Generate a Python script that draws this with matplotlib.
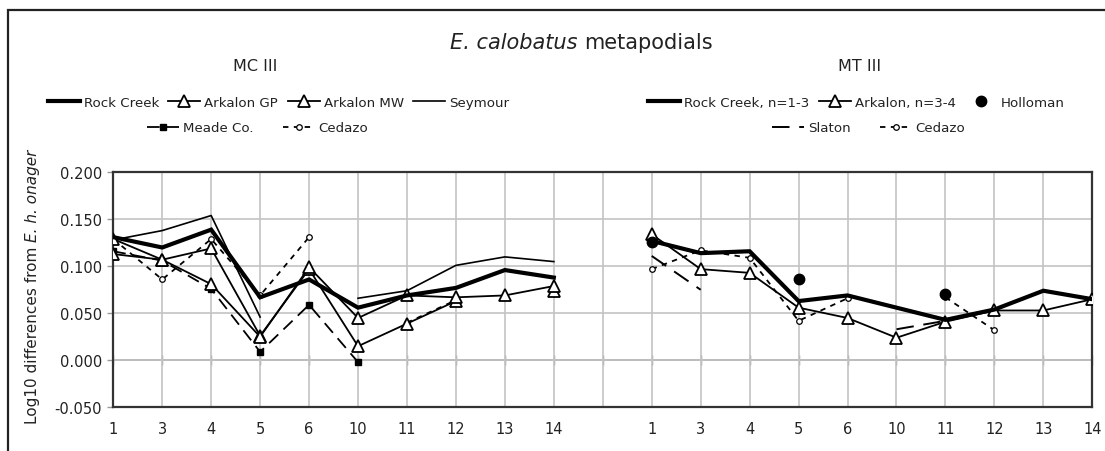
import numpy as np
import matplotlib
matplotlib.use("Agg")
import matplotlib.pyplot as plt
from matplotlib.lines import Line2D
from matplotlib.patches import Rectangle

plt.rcParams['font.family'] = ['DejaVu Sans']

nan = np.nan

# Measurement sites along each bone
categories = ['1', '3', '4', '5', '6', '10', '11', '12', '13', '14']

# MC III: log10 differences from E. h. onager
mc_rock_creek = [0.131, 0.120, 0.139, 0.067, 0.086, 0.056, 0.069, 0.077, 0.096, 0.088]
mc_arkalon_gp = [0.129, 0.107, 0.081, 0.025, 0.099, 0.045, 0.069, 0.067, 0.069, 0.079]
mc_arkalon_mw = [0.113, 0.107, 0.119, 0.026, 0.097, 0.015, 0.039, 0.063, nan, 0.074]
mc_seymour = [0.128, 0.138, 0.154, 0.046, nan, 0.066, 0.074, 0.101, 0.110, 0.105]
mc_meade = [0.116, 0.106, 0.076, 0.009, 0.059, -0.002, nan, nan, nan, nan]
mc_cedazo = [0.129, 0.086, 0.129, 0.069, 0.131, nan, 0.040, 0.064, nan, nan]

# MT III: log10 differences from E. h. onager
mt_rock_creek = [0.127, 0.114, 0.116, 0.063, 0.069, 0.056, 0.043, 0.054, 0.074, 0.065]
mt_arkalon = [0.134, 0.097, 0.093, 0.056, 0.045, 0.024, 0.041, 0.053, 0.053, 0.065]
mt_holloman = [0.126, nan, nan, 0.087, nan, nan, 0.071, nan, nan, nan]
mt_slaton = [0.111, 0.075, nan, nan, nan, 0.033, 0.042, nan, nan, nan]
mt_cedazo = [0.097, 0.117, 0.109, 0.042, 0.066, nan, 0.067, 0.032, nan, nan]

# One shared category axis: MC III, an empty slot, then MT III
tick_labels = categories + [''] + categories
n_cat = len(categories)
x_mc = np.arange(n_cat)
x_mt = np.arange(n_cat) + n_cat + 1
x_all = np.arange(len(tick_labels))

TEXT = '#222222'

fig = plt.figure(figsize=(11.05, 4.52), dpi=100)
ax = fig.add_axes([0.1025, 0.0967, 0.886, 0.5199])

ymin, ymax = -0.05, 0.2
ax.set_xlim(x_all[0], x_all[-1])
ax.set_ylim(ymin, ymax)

# Series styles
thick = dict(color='black', lw=3.0, solid_joinstyle='miter')
tri = dict(color='black', lw=1.3, marker='^', markersize=8,
           markerfacecolor='white', markeredgecolor='black', markeredgewidth=1.3)
thin = dict(color='black', lw=1.2)
meade = dict(color='black', lw=1.3, dashes=(7, 4), marker='s', markersize=5,
             markerfacecolor='black', markeredgecolor='black')
cedazo = dict(color='black', lw=1.3, dashes=(3, 3), marker='o', markersize=4,
              markerfacecolor='white', markeredgecolor='black', markeredgewidth=0.9)
slaton = dict(color='black', lw=1.4, dashes=(9, 5))
holloman = dict(color='black', lw=0, marker='o', markersize=7.5,
                markerfacecolor='black', markeredgecolor='black')

# MC III series
ax.plot(x_mc, mc_seymour, **thin, zorder=3)
ax.plot(x_mc, mc_meade, **meade, zorder=3)
ax.plot(x_mc, mc_cedazo, **cedazo, zorder=3)
ax.plot(x_mc, mc_arkalon_mw, **tri, zorder=4)
ax.plot(x_mc, mc_arkalon_gp, **tri, zorder=4)
ax.plot(x_mc, mc_rock_creek, **thick, zorder=5)

# MT III series
ax.plot(x_mt, mt_slaton, **slaton, zorder=3)
ax.plot(x_mt, mt_cedazo, **cedazo, zorder=3)
ax.plot(x_mt, mt_arkalon, **tri, zorder=4)
ax.plot(x_mt, mt_rock_creek, **thick, zorder=5)
ax.plot(x_mt, mt_holloman, **holloman, zorder=6)

# Axes, grid and ticks
yticks = np.arange(-0.05, 0.2001, 0.05)
ax.set_xticks(x_all)
ax.set_xticklabels(tick_labels, fontsize=10.5)
ax.set_yticks(yticks)
ax.set_yticklabels([f'{v:.3f}' for v in yticks], fontsize=10.5)
ax.tick_params(axis='x', length=0, pad=10, colors=TEXT)
ax.tick_params(axis='y', length=4, width=1.0, color='#999999', direction='out',
               pad=4, labelcolor=TEXT)
ax.grid(True, color='#c4c4c4', lw=1.2, zorder=0)
ax.set_axisbelow(True)
for sp in ax.spines.values():
    sp.set_color('#333333')
    sp.set_linewidth(1.6)

# Category axis line crossing at zero
zero_frac = (0 - ymin) / (ymax - ymin)
sec = ax.secondary_xaxis(zero_frac)
sec.set_xticks(x_all)
sec.set_xticklabels([])
sec.tick_params(axis='x', direction='inout', length=7, width=1.0, color='#8a8a8a')
sec.spines['bottom'].set_color('#8a8a8a')
sec.spines['bottom'].set_linewidth(1.2)

renderer = fig.canvas.get_renderer()
W, H = fig.bbox.width, fig.bbox.height


def run_of_text(pieces, fontsize, x, y, vertical=False):
    """Set a run of differently styled text pieces, centred on (x, y)."""
    widths = []
    for s, style in pieces:
        t = fig.text(0, 0, s, fontsize=fontsize, fontstyle=style)
        widths.append(t.get_window_extent(renderer).width)
        t.remove()
    gap = 0.32 * fontsize * fig.dpi / 72
    total = sum(widths) + gap * (len(pieces) - 1)
    pos = (y * H if vertical else x * W) - total / 2
    for (s, style), w in zip(pieces, widths):
        if vertical:
            fig.text(x, pos / H, s, fontsize=fontsize, fontstyle=style, color=TEXT,
                     rotation=90, ha='center', va='bottom')
        else:
            fig.text(pos / W, y, s, fontsize=fontsize, fontstyle=style, color=TEXT,
                     ha='left', va='center')
        pos += w + gap


run_of_text([('E. calobatus', 'italic'), ('metapodials', 'normal')], 15, 0.526, 0.905)
run_of_text([('Log10 differences from', 'normal'), ('E. h. onager', 'italic')], 11,
            0.029, 0.366, vertical=True)

fig.text(0.231, 0.853, 'MC III', ha='center', va='center', fontsize=11.5, color=TEXT)
fig.text(0.778, 0.853, 'MT III', ha='center', va='center', fontsize=11.5, color=TEXT)


# Legends, one row each
def legend_row(entries, cx, cy, spacing):
    handles = [Line2D([], [], **style) for style, _ in entries]
    labels = [lab for _, lab in entries]
    leg = fig.legend(handles, labels, loc='center', bbox_to_anchor=(cx, cy),
                     bbox_transform=fig.transFigure, ncol=len(entries), frameon=False,
                     fontsize=9.6, handlelength=2.4, handletextpad=0.3,
                     columnspacing=spacing, numpoints=1, borderpad=0)
    for t in leg.get_texts():
        t.set_color(TEXT)
    return leg


legend_row([(thick, 'Rock Creek'), (tri, 'Arkalon GP'), (tri, 'Arkalon MW'),
            (thin, 'Seymour')], 0.252, 0.772, 0.7)
legend_row([(meade, 'Meade Co.'), (cedazo, 'Cedazo')], 0.233, 0.715, 2.2)
legend_row([(thick, 'Rock Creek, n=1-3'), (tri, 'Arkalon, n=3-4'),
            (holloman, 'Holloman')], 0.775, 0.772, 0.7)
legend_row([(slaton, 'Slaton'), (cedazo, 'Cedazo')], 0.786, 0.715, 2.2)

# Chart frame
fig.patches.append(Rectangle((8 / 1105, -0.1), 1.2, 1 - 10.7 / 452 + 0.1,
                             transform=fig.transFigure, fill=False,
                             edgecolor=TEXT, lw=1.6))

fig.savefig('out.png', dpi=100)
